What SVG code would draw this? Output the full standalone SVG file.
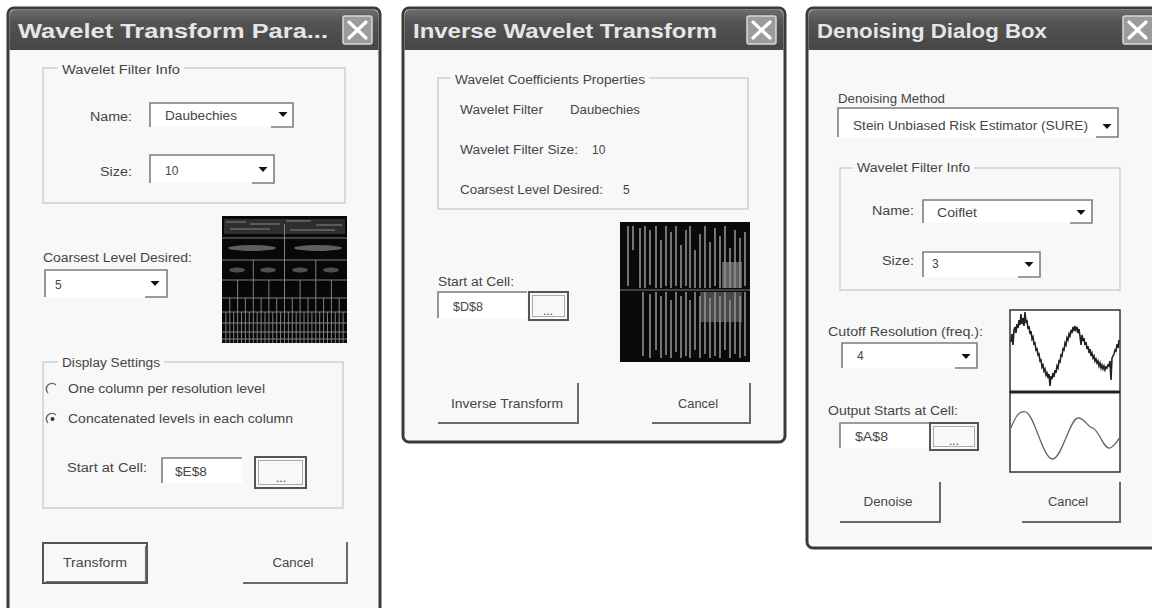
<svg xmlns="http://www.w3.org/2000/svg" width="1152" height="608" viewBox="0 0 1152 608">
<defs>
<linearGradient id="tb" x1="0" y1="0" x2="0" y2="1">
<stop offset="0" stop-color="#6e6e6e"/><stop offset="0.3" stop-color="#545454"/><stop offset="1" stop-color="#464646"/>
</linearGradient>
<filter id="soft" x="-5%" y="-5%" width="110%" height="110%"><feGaussianBlur stdDeviation="0.7"/></filter>
<style>
.frame{fill:#f8f8f8;stroke:#3b3b3b;stroke-width:3}
.tbar{fill:url(#tb)}
.ttl{font-family:"Liberation Sans",Arial,sans-serif;font-weight:bold;font-size:21px;fill:#e6e6e6}
.cls{fill:#9c9c9c;stroke:#d8d8d8;stroke-width:1.5}
.x{stroke:#fff;stroke-width:3.2;stroke-linecap:round}
.grp{fill:none;stroke:#cfcfcf;stroke-width:1.5}
.lbg{fill:#f8f8f8}
.t{font-family:"Liberation Sans",Arial,sans-serif;font-size:12px;fill:#454545}
.m{text-anchor:middle}
.fld{fill:#fff}
.edge{fill:none;stroke:#7d7d7d;stroke-width:1.6}
.arw{fill:#111}
.btnd{fill:none;stroke:#555;stroke-width:2}
.btni{fill:none;stroke:#aaa;stroke-width:1}
.btn3{fill:none;stroke:#6a6a6a;stroke-width:2}
.g1{fill:none;stroke:#8c8c8c;stroke-width:0.9}
.v2{fill:none;stroke:#8f8f8f;stroke-width:1.6}
</style>
</defs>
<rect width="1152" height="608" fill="#fff"/>

<!-- Dialog 1 -->
<g id="dlg-wavelet-transform">
<rect class="frame" x="8" y="8" width="372" height="612" rx="6"/>
<path class="tbar" d="M9.5,50 V16 Q9.5,9.5 16,9.5 H372 Q378.5,9.5 378.5,16 V50 Z"/>
<text class="ttl" x="18" y="38" textLength="310" lengthAdjust="spacingAndGlyphs">Wavelet Transform Para...</text>
<g id="d1-close"><rect class="cls" x="343" y="16" width="29" height="28" rx="2"/><path class="x" d="M349,22 L366,38 M366,22 L349,38"/></g>

<g id="d1-filter-group">
<rect class="grp" x="43" y="68" width="302" height="135"/>
<rect class="lbg" x="58" y="62" width="126" height="12"/>
<text class="t" x="62" y="74" textLength="118" lengthAdjust="spacingAndGlyphs">Wavelet Filter Info</text>
<text class="t" x="90" y="121" textLength="42" lengthAdjust="spacingAndGlyphs">Name:</text>
<g id="d1-name-combo">
<rect class="fld" x="150" y="103" width="143" height="24"/>
<path class="edge" d="M150,127 V103 H293 V127 H271"/>
<path class="arw" d="M278.5,112 h9 l-4.5,5 z"/>
<text class="t" x="165" y="120" textLength="72" lengthAdjust="spacingAndGlyphs">Daubechies</text>
</g>
<text class="t" x="100" y="176" textLength="32" lengthAdjust="spacingAndGlyphs">Size:</text>
<g id="d1-size-combo">
<rect class="fld" x="150" y="155" width="124" height="28"/>
<path class="edge" d="M150,183 V155 H274 V183 H252"/>
<path class="arw" d="M258.5,167 h9 l-4.5,5 z"/>
<text class="t" x="165" y="175">10</text>
</g>
</g>

<g id="d1-coarsest">
<text class="t" x="43" y="262" textLength="149" lengthAdjust="spacingAndGlyphs">Coarsest Level Desired:</text>
<rect class="fld" x="45" y="270" width="122" height="27"/>
<path class="edge" d="M45,297 V270 H167 V297 H145"/>
<path class="arw" d="M150.5,281 h9 l-4.5,5 z"/>
<text class="t" x="55" y="289">5</text>
</g>

<g id="d1-image">
<rect x="222" y="216" width="125" height="127" fill="#080808"/>
<g filter="url(#soft)">
<rect x="224" y="219" width="121" height="15" fill="#2e2e2e"/>
<path d="M226,222 h20 M250,224 h30 M286,221 h25 M316,225 h26 M230,229 h40 M290,230 h45" stroke="#6a6a6a" stroke-width="1.5"/>
<ellipse cx="252" cy="248" rx="24" ry="3" fill="#5e5e5e"/>
<ellipse cx="318" cy="248" rx="24" ry="3" fill="#5e5e5e"/>
<ellipse cx="237" cy="270" rx="8" ry="2.5" fill="#505050"/>
<ellipse cx="268" cy="270" rx="8" ry="2.5" fill="#505050"/>
<ellipse cx="300" cy="270" rx="8" ry="2.5" fill="#505050"/>
<ellipse cx="331" cy="270" rx="8" ry="2.5" fill="#505050"/>
<path class="g1" d="M222,238 H347 M222,260 H347 M222,280 H347 M222,298 H347 M222,312 H347 M222,323 H347 M222,332 H347 M222,339 H347 M284.5,224 V343"/>
<path class="g1" d="M253.3,260 V343 M315.8,260 V343 M237.6,280 V343 M268.9,280 V343 M300.1,280 V343 M331.4,280 V343"/>
<path class="g1" d="M229.8,298 V343 M245.4,298 V343 M261.1,298 V343 M276.7,298 V343 M292.3,298 V343 M308,298 V343 M323.6,298 V343 M339.2,298 V343"/>
<path class="g1" d="M225.9,312 V343 M233.7,312 V343 M241.5,312 V343 M249.3,312 V343 M257.2,312 V343 M265,312 V343 M272.8,312 V343 M280.6,312 V343 M288.4,312 V343 M296.2,312 V343 M304,312 V343 M311.9,312 V343 M319.7,312 V343 M327.5,312 V343 M335.3,312 V343 M343.1,312 V343"/>
</g>
</g>

<g id="d1-display-group">
<rect class="grp" x="43" y="362" width="300" height="146"/>
<rect class="lbg" x="58" y="356" width="106" height="12"/>
<text class="t" x="62" y="367" textLength="98" lengthAdjust="spacingAndGlyphs">Display Settings</text>
<g id="d1-radio1">
<path d="M48,393 A5.5,5.5 0 0 1 56,385" fill="none" stroke="#666" stroke-width="1.4"/>
<text class="t" x="68" y="393" textLength="197" lengthAdjust="spacingAndGlyphs">One column per resolution level</text>
</g>
<g id="d1-radio2">
<path d="M48,423 A5.5,5.5 0 0 1 56,415" fill="none" stroke="#666" stroke-width="1.4"/>
<circle cx="52.5" cy="419" r="2" fill="#333"/>
<text class="t" x="68" y="423" textLength="225" lengthAdjust="spacingAndGlyphs">Concatenated levels in each column</text>
</g>
<text class="t" x="67" y="472" textLength="80" lengthAdjust="spacingAndGlyphs">Start at Cell:</text>
<g id="d1-cell-box">
<rect class="fld" x="162" y="458" width="80" height="25"/>
<path class="edge" d="M162,483 V458 H242"/>
<text class="t" x="175" y="476" textLength="32" lengthAdjust="spacingAndGlyphs">$E$8</text>
</g>
<g id="d1-browse">
<rect class="btnd" x="255" y="457" width="51" height="31"/>
<rect class="btni" x="258.5" y="460.5" width="44" height="24"/>
<text class="t m" x="281" y="482" font-size="10">...</text>
</g>
</g>

<g id="d1-transform-btn">
<rect class="btnd" x="43" y="543" width="104" height="40"/>
<path d="M46,581.5 H145.5 V546" fill="none" stroke="#777" stroke-width="1.2"/>
<text class="t m" x="95" y="567" textLength="64" lengthAdjust="spacingAndGlyphs">Transform</text>
</g>
<g id="d1-cancel-btn">
<path class="btn3" d="M347,542 V583 H243"/>
<text class="t m" x="293" y="567" textLength="41" lengthAdjust="spacingAndGlyphs">Cancel</text>
</g>
</g>

<!-- Dialog 2 -->
<g id="dlg-inverse">
<rect class="frame" x="403" y="8" width="382" height="434" rx="6"/>
<path class="tbar" d="M404.5,50 V16 Q404.5,9.5 411,9.5 H777 Q783.5,9.5 783.5,16 V50 Z"/>
<text class="ttl" x="413" y="38" textLength="304" lengthAdjust="spacingAndGlyphs">Inverse Wavelet Transform</text>
<g id="d2-close"><rect class="cls" x="747" y="16" width="29" height="28" rx="2"/><path class="x" d="M753,22 L770,38 M770,22 L753,38"/></g>

<g id="d2-props-group">
<rect class="grp" x="438" y="78" width="310" height="131"/>
<rect class="lbg" x="451" y="72" width="198" height="12"/>
<text class="t" x="455" y="84" textLength="190" lengthAdjust="spacingAndGlyphs">Wavelet Coefficients Properties</text>
<text class="t" x="460" y="114" textLength="83" lengthAdjust="spacingAndGlyphs">Wavelet Filter</text>
<text class="t" x="570" y="114" textLength="70" lengthAdjust="spacingAndGlyphs">Daubechies</text>
<text class="t" x="460" y="154" textLength="118" lengthAdjust="spacingAndGlyphs">Wavelet Filter Size:</text>
<text class="t" x="592" y="154">10</text>
<text class="t" x="460" y="194" textLength="143" lengthAdjust="spacingAndGlyphs">Coarsest Level Desired:</text>
<text class="t" x="623" y="194">5</text>
</g>

<g id="d2-image">
<rect x="620" y="222" width="130" height="140" fill="#0a0a0a"/>
<g filter="url(#soft)">
<rect x="722" y="262" width="20" height="26" fill="#5e5e5e"/>
<rect x="700" y="292" width="42" height="30" fill="#484848"/>
<path d="M620,290 H750" stroke="#555" stroke-width="1.5"/>
<path class="v2" d="M628,226 V286 M633,226 V250 M640,228 V288 M645,226 V288 M650,230 V285 M656,226 V288 M661,240 V288 M666,226 V286 M671,232 V288 M676,226 V286 M681,245 V288 M686,230 V286 M690,226 V288 M695,250 V288 M700,234 V288 M705,226 V288 M710,242 V288 M715,228 V286 M720,236 V288 M725,226 V288 M730,248 V288 M735,230 V288 M740,238 V288 M745,232 V286"/>
<path class="v2" stroke="#7a7a7a" d="M643,292 V356 M650,294 V358 M656,292 V350 M661,296 V358 M666,292 V355 M671,300 V358 M676,292 V352 M681,296 V358 M686,292 V356 M690,300 V358 M695,292 V350 M700,296 V358 M705,292 V354 M710,298 V358 M715,292 V356 M720,296 V358 M725,292 V350 M730,300 V358 M735,292 V354 M740,296 V358 M745,292 V356"/>
</g>
</g>

<text class="t" x="438" y="286" textLength="76" lengthAdjust="spacingAndGlyphs">Start at Cell:</text>
<g id="d2-cell-box">
<rect class="fld" x="438" y="292" width="89" height="26"/>
<path class="edge" d="M438,318 V292 H527"/>
<text class="t" x="453" y="311" textLength="30" lengthAdjust="spacingAndGlyphs">$D$8</text>
</g>
<g id="d2-browse">
<rect class="btnd" x="529" y="292" width="39" height="28"/>
<rect class="btni" x="532.5" y="295.5" width="32" height="21"/>
<text class="t m" x="548" y="315" font-size="10">...</text>
</g>
<g id="d2-inverse-btn">
<path class="btn3" d="M578,383 V423 H438"/>
<text class="t m" x="507" y="408" textLength="112" lengthAdjust="spacingAndGlyphs">Inverse Transform</text>
</g>
<g id="d2-cancel-btn">
<path class="btn3" d="M750,383 V423 H652"/>
<text class="t m" x="698" y="408" textLength="40" lengthAdjust="spacingAndGlyphs">Cancel</text>
</g>
</g>

<!-- Dialog 3 -->
<g id="dlg-denoising">
<rect class="frame" x="807" y="8" width="360" height="540" rx="6"/>
<path class="tbar" d="M808.5,50 V16 Q808.5,9.5 815,9.5 H1165 V50 Z"/>
<text class="ttl" x="817" y="38" textLength="230" lengthAdjust="spacingAndGlyphs">Denoising Dialog Box</text>
<g id="d3-close"><rect class="cls" x="1123" y="16" width="32" height="28" rx="2"/><path class="x" d="M1129,22 L1146,38 M1146,22 L1129,38"/></g>

<text class="t" x="838" y="103" textLength="107" lengthAdjust="spacingAndGlyphs">Denoising Method</text>
<g id="d3-method-combo">
<rect class="fld" x="838" y="108" width="280" height="29"/>
<path class="edge" d="M838,137 V108 H1118 V137 H1096"/>
<path class="arw" d="M1102.5,124 h9 l-4.5,5 z"/>
<text class="t" x="853" y="130" textLength="235" lengthAdjust="spacingAndGlyphs">Stein Unbiased Risk Estimator (SURE)</text>
</g>

<g id="d3-filter-group">
<rect class="grp" x="840" y="168" width="280" height="122"/>
<rect class="lbg" x="853" y="162" width="121" height="12"/>
<text class="t" x="857" y="172" textLength="113" lengthAdjust="spacingAndGlyphs">Wavelet Filter Info</text>
<text class="t" x="872" y="215" textLength="42" lengthAdjust="spacingAndGlyphs">Name:</text>
<g id="d3-name-combo">
<rect class="fld" x="923" y="200" width="169" height="23"/>
<path class="edge" d="M923,223 V200 H1092 V223 H1070"/>
<path class="arw" d="M1076.5,210 h9 l-4.5,5 z"/>
<text class="t" x="937" y="217" textLength="40" lengthAdjust="spacingAndGlyphs">Coiflet</text>
</g>
<text class="t" x="882" y="265" textLength="32" lengthAdjust="spacingAndGlyphs">Size:</text>
<g id="d3-size-combo">
<rect class="fld" x="923" y="252" width="117" height="25"/>
<path class="edge" d="M923,277 V252 H1040 V277 H1018"/>
<path class="arw" d="M1024.5,262 h9 l-4.5,5 z"/>
<text class="t" x="932" y="268">3</text>
</g>
</g>

<text class="t" x="828" y="336" textLength="155" lengthAdjust="spacingAndGlyphs">Cutoff Resolution (freq.):</text>
<g id="d3-cutoff-combo">
<rect class="fld" x="842" y="343" width="135" height="25"/>
<path class="edge" d="M842,368 V343 H977 V368 H955"/>
<path class="arw" d="M961.5,354 h9 l-4.5,5 z"/>
<text class="t" x="857" y="360">4</text>
</g>

<g id="d3-image">
<rect x="1010" y="310" width="110" height="82" fill="#fff" stroke="#333" stroke-width="1.5"/>
<rect x="1010" y="392" width="110" height="80" fill="#fff" stroke="#333" stroke-width="1.5"/>
<line x1="1010" y1="392" x2="1120" y2="392" stroke="#222" stroke-width="3"/>
<polyline filter="url(#soft)" fill="none" stroke="#222" stroke-width="1.6" points="1011,342 1012,334 1013,345 1014,330 1015,327 1016,333 1017,324 1018,328 1019,320 1020,325 1021,314 1022,324 1023,318 1024,326 1025,312 1026,322 1027,321 1028,329 1029,326 1030,334 1031,331 1032,339 1033,337 1034,344 1035,343 1036,350 1037,349 1038,355 1039,354 1040,361 1041,360 1042,367 1043,365 1044,371 1045,369 1046,375 1047,373 1048,378 1049,374 1050,386 1051,376 1052,379 1053,373 1054,377 1055,370 1056,373 1057,366 1058,368 1059,361 1060,362 1061,355 1062,356 1063,349 1064,350 1065,343 1066,345 1067,338 1068,340 1069,334 1070,336 1071,330 1072,333 1073,327 1074,331 1075,326 1076,330 1077,327 1078,333 1079,329 1080,336 1081,345 1082,335 1083,341 1084,338 1085,345 1086,342 1087,349 1088,346 1089,353 1090,349 1091,356 1092,353 1093,358 1094,356 1095,361 1096,359 1097,363 1098,361 1099,366 1100,363 1101,368 1102,365 1103,369 1104,366 1105,370 1106,367 1107,368 1108,365 1109,366 1110,361 1111,380 1112,358 1113,356 1114,354 1115,350 1116,351 1117,344 1118,348 1119,340"/>
<path fill="none" stroke="#666" stroke-width="1.3" d="M1011,428 C1016,415 1020,410 1026,412 C1035,416 1043,460 1053,459 C1062,458 1070,418 1078,418 C1085,418 1088,428 1093,428 C1100,432 1104,450 1110,448 C1115,446 1118,440 1120,437"/>
</g>

<text class="t" x="828" y="415" textLength="130" lengthAdjust="spacingAndGlyphs">Output Starts at Cell:</text>
<g id="d3-cell-box">
<rect class="fld" x="840" y="423" width="90" height="25"/>
<path class="edge" d="M840,448 V423 H930"/>
<text class="t" x="855" y="441" textLength="33" lengthAdjust="spacingAndGlyphs">$A$8</text>
</g>
<g id="d3-browse">
<rect class="btnd" x="930" y="423" width="48" height="27"/>
<rect class="btni" x="933.5" y="426.5" width="41" height="20"/>
<text class="t m" x="954" y="445" font-size="10">...</text>
</g>
<g id="d3-denoise-btn">
<path class="btn3" d="M940,482 V522 H840"/>
<text class="t m" x="888" y="506" textLength="49" lengthAdjust="spacingAndGlyphs">Denoise</text>
</g>
<g id="d3-cancel-btn">
<path class="btn3" d="M1120,482 V522 H1022"/>
<text class="t m" x="1068" y="506" textLength="40" lengthAdjust="spacingAndGlyphs">Cancel</text>
</g>
</g>
</svg>
